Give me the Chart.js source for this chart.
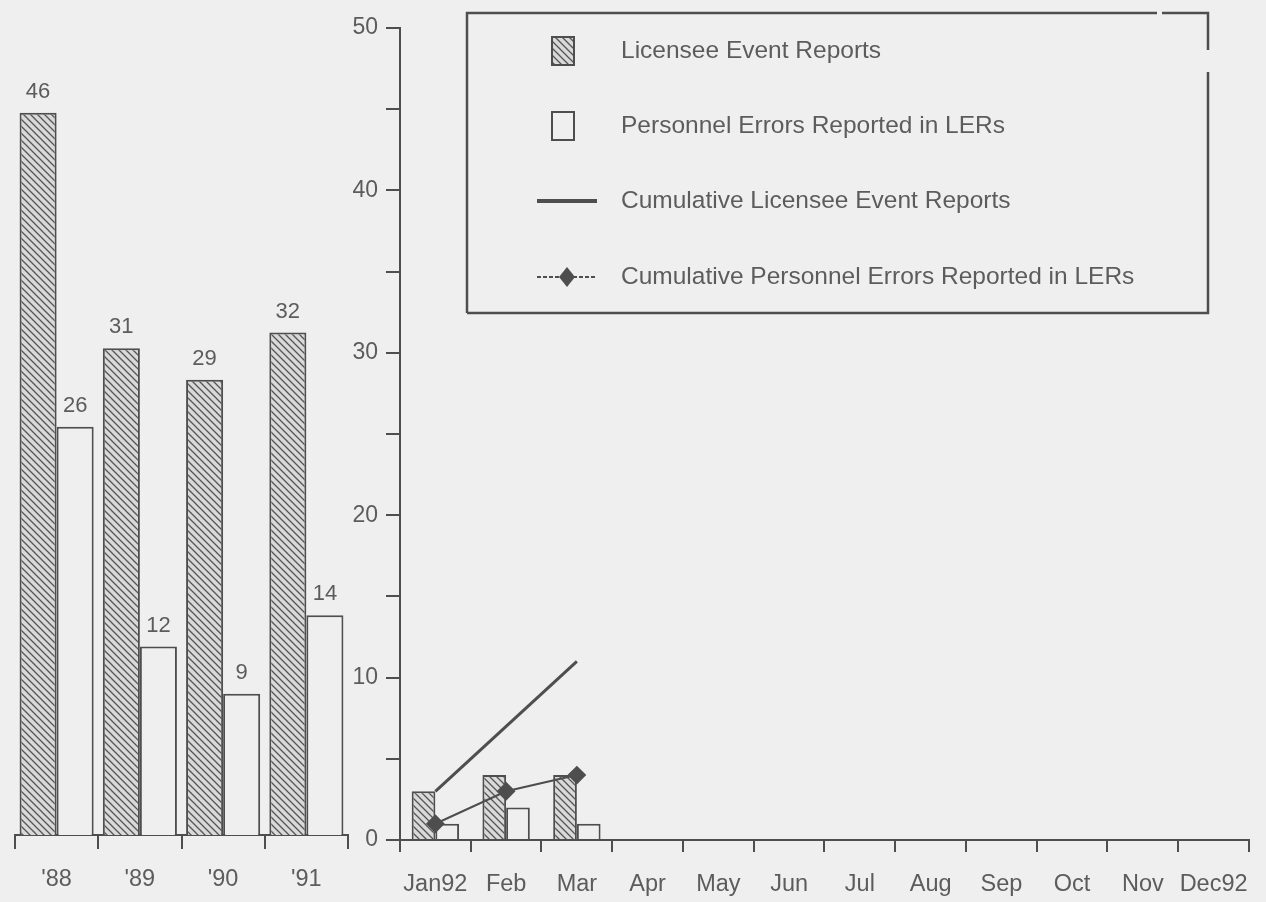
<!DOCTYPE html>
<html>
<head>
<meta charset="utf-8">
<script src="https://cdn.jsdelivr.net/npm/chart.js@4.4.0/dist/chart.umd.min.js"></script>
<style>
  body { margin: 0; background: #efefef; width: 1266px; height: 902px; overflow: hidden; position: relative; }
  canvas { position: absolute; top: 0; }
  #left { left: 0; }
  #right { left: 350px; }
</style>
</head>
<body>
<canvas id="left" width="356" height="902"></canvas>
<canvas id="right" width="916" height="902"></canvas>
<script>
// yearly totals
const years = ["'88", "'89", "'90", "'91"];
const yearLER = [46, 31, 29, 32];
const yearPersonnel = [26, 12, 9, 14];

// 1992 by month
const months = ["Jan92", "Feb", "Mar", "Apr", "May", "Jun", "Jul", "Aug", "Sep", "Oct", "Nov", "Dec92"];
const monthLER = [3, 4, 4];
const monthPersonnel = [1, 2, 1];
const cumLER = [3, 7, 11];
const cumPersonnel = [1, 3, 4];

const legendLabels = [
  "Licensee Event Reports",
  "Personnel Errors Reported in LERs",
  "Cumulative Licensee Event Reports",
  "Cumulative Personnel Errors Reported in LERs",
];

const ink = "#4e4e4e";
const txt = "#5c5c5c";
const paper = "#efefef";
const family = "'Liberation Sans Narrow', 'Arial Narrow', 'Liberation Sans', Arial, sans-serif";

function hatch(ctx) {
  const c = document.createElement("canvas");
  c.width = c.height = 7;
  const g = c.getContext("2d");
  g.fillStyle = "#d9d9d9";
  g.fillRect(0, 0, 7, 7);
  g.strokeStyle = "#555";
  g.lineWidth = 1.3;
  g.beginPath();
  g.moveTo(-1, -1); g.lineTo(8, 8);
  g.moveTo(-1, 6); g.lineTo(1, 8);
  g.moveTo(6, -1); g.lineTo(8, 1);
  g.stroke();
  return ctx.createPattern(c, "repeat");
}

const valueLabels = {
  id: "valueLabels",
  afterDatasetsDraw(chart) {
    const ctx = chart.ctx;
    ctx.save();
    ctx.fillStyle = txt;
    ctx.font = "22px " + family;
    ctx.textAlign = "center";
    ctx.textBaseline = "alphabetic";
    chart.data.datasets.forEach((ds, i) => {
      chart.getDatasetMeta(i).data.forEach((bar, j) => {
        ctx.fillText(ds.data[j], bar.x, bar.y - 15);
      });
    });
    ctx.restore();
  }
};

const boxLegend = {
  id: "boxLegend",
  afterDraw(chart) {
    const ctx = chart.ctx;
    const L = 117, R = 858, T = 13, B = 313;
    ctx.save();
    ctx.strokeStyle = ink;
    ctx.lineWidth = 2.5;
    ctx.beginPath();
    ctx.moveTo(L, B); ctx.lineTo(L, T); ctx.lineTo(807, T);
    ctx.moveTo(812, T); ctx.lineTo(R, T); ctx.lineTo(R, 50);
    ctx.moveTo(R, 72); ctx.lineTo(R, B); ctx.lineTo(L, B);
    ctx.stroke();

    const ys = [51, 126, 201, 277];
    const cx = 213;
    // hatched square
    ctx.lineWidth = 2;
    ctx.fillStyle = hatch(ctx);
    ctx.fillRect(cx - 11, ys[0] - 14, 22, 28);
    ctx.strokeRect(cx - 11, ys[0] - 14, 22, 28);
    // open square
    ctx.fillStyle = paper;
    ctx.fillRect(cx - 11, ys[1] - 14, 22, 28);
    ctx.strokeRect(cx - 11, ys[1] - 14, 22, 28);
    // line
    ctx.lineWidth = 4;
    ctx.beginPath(); ctx.moveTo(cx - 26, ys[2]); ctx.lineTo(cx + 34, ys[2]); ctx.stroke();
    // line with diamond
    ctx.lineWidth = 2;
    ctx.setLineDash([4, 2]);
    ctx.beginPath(); ctx.moveTo(cx - 26, ys[3]); ctx.lineTo(cx + 34, ys[3]); ctx.stroke();
    ctx.setLineDash([]);
    ctx.fillStyle = ink;
    ctx.beginPath();
    ctx.moveTo(cx + 4, ys[3] - 10); ctx.lineTo(cx + 12, ys[3]);
    ctx.lineTo(cx + 4, ys[3] + 10); ctx.lineTo(cx - 4, ys[3]);
    ctx.closePath(); ctx.fill();

    ctx.fillStyle = txt;
    ctx.font = "24.5px " + family;
    ctx.textBaseline = "middle";
    legendLabels.forEach((t, i) => ctx.fillText(t, 271, ys[i]));
    ctx.restore();
  }
};

const leftCtx = document.getElementById("left").getContext("2d");
new Chart(leftCtx, {
  type: "bar",
  data: {
    labels: years,
    datasets: [
      { data: yearLER, backgroundColor: hatch(leftCtx), borderColor: ink, borderWidth: 2 },
      { data: yearPersonnel, backgroundColor: paper, borderColor: ink, borderWidth: 2 },
    ],
  },
  options: {
    responsive: false,
    animation: false,
    devicePixelRatio: 1,
    categoryPercentage: 0.89,
    barPercentage: 1,
    layout: { padding: { left: 15, right: 8, top: 28, bottom: 0 } },
    plugins: { legend: { display: false }, tooltip: { enabled: false } },
    scales: {
      x: {
        afterFit: (s) => { s.height = 67; },
        grid: { drawOnChartArea: false, color: ink, lineWidth: 2, tickLength: 14 },
        border: { color: ink, width: 2 },
        ticks: { color: txt, font: { family: family, size: 23.5 }, padding: 16 },
      },
      y: { display: false, min: 0, max: 51.4 },
    },
  },
  plugins: [valueLabels],
});

const rightCtx = document.getElementById("right").getContext("2d");
new Chart(rightCtx, {
  type: "bar",
  data: {
    labels: months,
    datasets: [
      { type: "line", data: cumPersonnel, borderColor: ink, borderWidth: 2, pointStyle: "rectRot",
        pointRadius: 8, pointBackgroundColor: ink, pointBorderColor: ink, order: 0 },
      { type: "line", data: cumLER, borderColor: ink, borderWidth: 3, pointRadius: 0, order: 1 },
      { data: monthLER, backgroundColor: hatch(rightCtx), borderColor: ink, borderWidth: 2, order: 2 },
      { data: monthPersonnel, backgroundColor: paper, borderColor: ink, borderWidth: 2, order: 3 },
    ],
  },
  options: {
    responsive: false,
    animation: false,
    devicePixelRatio: 1,
    layout: { padding: { left: 0, right: 9, top: 28, bottom: 0 } },
    datasets: { bar: { categoryPercentage: 0.67, barPercentage: 1 } },
    plugins: { legend: { display: false }, tooltip: { enabled: false } },
    scales: {
      x: {
        afterFit: (s) => { s.height = 62; },
        grid: { drawOnChartArea: false, color: ink, lineWidth: 2, tickLength: 12 },
        border: { color: ink, width: 2 },
        ticks: { color: txt, font: { family: family, size: 23.5 }, padding: 18, maxRotation: 0, autoSkip: false },
      },
      y: {
        min: 0,
        max: 50,
        afterFit: (s) => { s.width = 50; },
        grid: { drawOnChartArea: false, color: ink, lineWidth: 2, tickLength: 14 },
        border: { color: ink, width: 2 },
        ticks: {
          stepSize: 5,
          color: txt,
          font: { family: family, size: 23 },
          padding: 8,
          callback: (v) => (v % 10 === 0 ? v : ""),
        },
      },
    },
  },
  plugins: [boxLegend],
});
</script>
</body>
</html>
